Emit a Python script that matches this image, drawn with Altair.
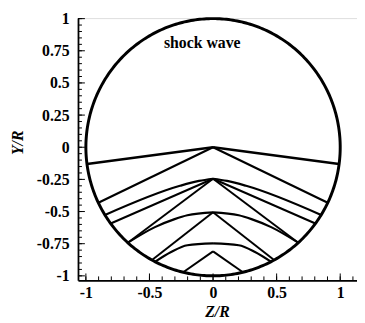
import altair as alt
import numpy as np
import pandas as pd

# ---- data (left half; right half is its mirror) ----
seg_names = ["A", "B", "C", "D", "E", "F", "G", "H", "I"]
seg_x = [
    [0.0, -0.991],                       # A apex1 -> circle
    [0.0, -0.902],                       # B apex1 -> circle
    [0.0, -0.11, -0.26, -0.85],          # C curved, apex2
    [0.0, -0.805],                       # D apex2
    [0.0, -0.67],                        # E apex2
    [0.0, -0.202, -0.302, -0.457, -0.67],# F curved, apex3
    [0.0, -0.48],                        # G apex3
    [0.0, -0.202, -0.33, -0.455],        # H curved, apex4
    [0.0, -0.235],                       # I apex5
]
seg_y = [
    [0.0, -0.13],
    [0.0, -0.431],
    [-0.245, -0.262, -0.30, -0.527],
    [-0.245, -0.593],
    [-0.245, -0.742],
    [-0.506, -0.529, -0.559, -0.621, -0.742],
    [-0.506, -0.877],
    [-0.747, -0.762, -0.815, -0.89],
    [-0.81, -0.972],
]
seg_width = [2.6, 2.2, 2.2, 2.0, 2.0, 2.2, 2.0, 2.2, 2.0]

x_major = [-1, -0.5, 0, 0.5, 1]
y_major = [1, 0.75, 0.5, 0.25, 0, -0.25, -0.5, -0.75, -1]
x_minor = [-1.0, -0.9, -0.8, -0.7, -0.6, -0.5, -0.4, -0.3, -0.2, -0.1, 0.0,
           0.1, 0.2, 0.3, 0.4, 0.5, 0.6, 0.7, 0.8, 0.9, 1.0, 1.1]
y_minor = [-1.0, -0.95, -0.9, -0.85, -0.8, -0.75, -0.7, -0.65, -0.6, -0.55,
           -0.5, -0.45, -0.4, -0.35, -0.3, -0.25, -0.2, -0.15, -0.1, -0.05, 0.0,
           0.05, 0.1, 0.15, 0.2, 0.25, 0.3, 0.35, 0.4, 0.45, 0.5, 0.55, 0.6,
           0.65, 0.7, 0.75, 0.8, 0.85, 0.9, 0.95, 1.0]

label_text = ["shock wave"]
label_x = [-0.085]
label_y = [0.81]

# ---- tables ----
rows = []
for name, xs, ys, w in zip(seg_names, seg_x, seg_y, seg_width):
    for side, sgn in (("L", 1), ("R", -1)):
        for i, (xv, yv) in enumerate(zip(xs, ys)):
            rows.append({"seg": name + side, "x": sgn * xv, "y": yv, "ord": i, "w": w})
lines_df = pd.DataFrame(rows)

th = np.linspace(0, 2 * np.pi, 361)
circle_df = pd.DataFrame({"x": np.cos(th), "y": np.sin(th), "ord": np.arange(361)})

xt_minor = pd.DataFrame({"x": x_minor})
xt_major = pd.DataFrame({"x": x_major})
yt_minor = pd.DataFrame({"y": y_minor})
yt_major = pd.DataFrame({"y": y_major})
txt_df = pd.DataFrame({"x": label_x, "y": label_y, "t": label_text})

W, H = 283, 266
FONT = "Liberation Serif"

xscale = alt.Scale(domain=[-1.062, 1.132], nice=False, zero=False)
yscale = alt.Scale(domain=[-1.035, 1.004], nice=False, zero=False)

X = alt.X("x:Q", scale=xscale, axis=alt.Axis(
    values=x_major, tickSize=0, grid=False, labelExpr="toString(datum.value)",
    title="Z/R", titleX=141, titleY=32,
    titleAlign="center", titleBaseline="middle",
    labelPadding=4, labelFlush=False))
Y = alt.Y("y:Q", scale=yscale, axis=alt.Axis(
    values=y_major, tickSize=0, grid=False, labelExpr="toString(datum.value)",
    title="Y/R", titleX=-61, titleY=126, titleAngle=-90,
    titleAlign="center", titleBaseline="middle",
    labelPadding=9, labelFlush=False))

circle = alt.Chart(circle_df).mark_line(color="black", strokeWidth=3).encode(
    x=X, y=Y, order="ord:Q")

inner = alt.Chart(lines_df).mark_line(color="black", interpolate="monotone").encode(
    x=X, y=Y, detail="seg:N", order="ord:Q",
    strokeWidth=alt.StrokeWidth("w:Q", scale=None, legend=None))

text = alt.Chart(txt_df).mark_text(font=FONT, fontSize=16, fontWeight="bold",
                                   color="black").encode(x=X, y=Y, text="t:N")

xticks = alt.Chart(xt_minor).mark_rule(color="black", strokeWidth=1).encode(
    x=X, y=alt.value(H), y2=alt.value(H - 4))
xticks_major = alt.Chart(xt_major).mark_rule(color="black", strokeWidth=1).encode(
    x=X, y=alt.value(H), y2=alt.value(H - 7))
yticks = alt.Chart(yt_minor).mark_rule(color="black", strokeWidth=1).encode(
    y=Y, x=alt.value(0), x2=alt.value(4))
yticks_major = alt.Chart(yt_major).mark_rule(color="black", strokeWidth=1).encode(
    y=Y, x=alt.value(0), x2=alt.value(7))

chart = alt.layer(circle, inner, text, xticks, xticks_major, yticks, yticks_major).properties(
    width=W, height=H,
    autosize=alt.AutoSizeParams(type="none"),
    padding={"left": 71, "top": 8, "right": 0, "bottom": 41},
).configure_view(stroke=None).configure(background="white").configure_axis(
    labelFont=FONT, labelFontWeight="bold", labelFontSize=16, labelColor="black",
    titleFont=FONT, titleFontStyle="italic", titleFontWeight="bold",
    titleFontSize=16, titleColor="black",
    domainColor="black", domainWidth=1.8,
)

chart.save("out.html", embed_options={"renderer": "svg", "actions": False})
